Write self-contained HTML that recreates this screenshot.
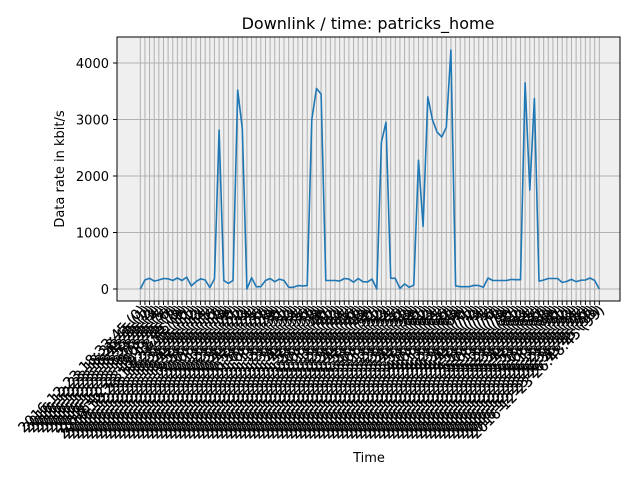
<!DOCTYPE html>
<html><head><meta charset="utf-8"><style>
body{margin:0;background:#fff;}
svg{display:block;font-family:"DejaVu Sans","Liberation Sans",sans-serif;}
</style></head><body>
<svg id="chart" width="640" height="480">
<rect x="117" y="37" width="503" height="264" fill="#efefef"/>
<g id="grid"></g>
<g id="series"></g>
<rect x="117" y="37" width="503" height="264" fill="none" stroke="#000" stroke-width="1"/>
<g id="yticks"></g>
<g id="xticks"></g>
<text x="368" y="29" text-anchor="middle" font-size="16">Downlink / time: patricks_home</text>
<text x="0" y="0" transform="translate(64,169) rotate(-90)" text-anchor="middle" font-size="13">Data rate in kbit/s</text>
<text x="369" y="462" text-anchor="middle" font-size="13">Time</text>
</svg>
<script>
const values=[0,160,190,140,160,185,180,150,195,150,210,55,130,180,160,25,180,2810,150,100,150,3520,2840,0,200,40,40,150,185,130,175,150,30,30,60,55,60,3000,3550,3450,150,150,150,140,185,175,120,185,130,125,175,0,2600,2950,190,190,10,90,30,70,2280,1110,3400,3000,2780,2690,2860,4230,55,40,40,40,65,60,30,195,150,150,150,150,170,165,165,3650,1750,3370,140,160,185,185,185,115,135,170,130,155,160,195,150,0];
const yTicks=[0,1000,2000,3000,4000];
const labels=values.map((v,i)=>{const m=33+i*5;const h=18+Math.floor(m/60);return "2016-12-23 "+h+":"+String(m%60).padStart(2,"0")+":45 ("+i+")";});
const NS="http://www.w3.org/2000/svg";
const x0=140.3,x1=599.3,n=values.length;
const xs=i=>x0+(x1-x0)*i/(n-1);
const ys=v=>289-v*0.0565;
function mk(tag,attrs,parent){const e=document.createElementNS(NS,tag);for(const k in attrs)e.setAttribute(k,attrs[k]);parent.appendChild(e);return e;}
const grid=document.getElementById('grid'),yt=document.getElementById('yticks'),xt=document.getElementById('xticks');
yTicks.forEach(t=>{
  const y=ys(t);
  const gl=mk('line',{x1:117,x2:620,y1:y,y2:y,stroke:'#b0b0b0','stroke-width':1},grid);
  
  
  const tk=mk('line',{x1:113,x2:117,y1:y,y2:y,stroke:'#000'},yt);
  
  
  const tl=mk('text',{x:109,y:y+5,'text-anchor':'end','font-size':13},yt);
  tl.textContent=t;
  
  
});
values.forEach((v,i)=>{
  const x=xs(i);
  const gl=mk('line',{x1:x,x2:x,y1:37,y2:301,stroke:'#b0b0b0','stroke-width':1},grid);
  
  
  const tk=mk('line',{x1:x,x2:x,y1:301,y2:305,stroke:'#000'},xt);
  
  
  const tl=mk('text',{x:0,y:0,'text-anchor':'end','font-size':14,'stroke':'#000','stroke-width':0.2,transform:`translate(${x+6},${311}) rotate(-45)`},xt);
  tl.textContent=labels[i];
  
  
});
const pts=values.map((v,i)=>xs(i).toFixed(1)+','+ys(v).toFixed(1)).join(' ');
const line=mk('polyline',{points:pts,fill:'none',stroke:'#1f77b4','stroke-width':1.6,'stroke-linejoin':'round'},document.getElementById('series'));


</script>
</body></html>
